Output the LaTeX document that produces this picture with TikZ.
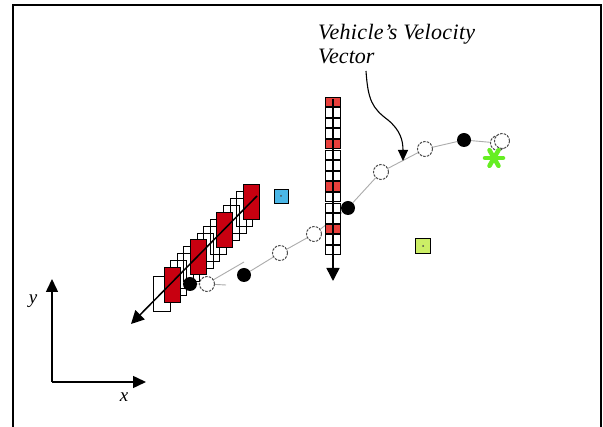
\documentclass[tikz,border=0pt]{standalone}
\usepackage{fontspec}
\setmainfont{Liberation Serif}
\usetikzlibrary{arrows.meta,calc}
\definecolor{boxred}{HTML}{C80010}
\definecolor{cellred}{HTML}{E8403C}
\definecolor{skyblue}{HTML}{4AB6E6}
\definecolor{lime}{HTML}{CCEE66}
\definecolor{brightgreen}{HTML}{66EE22}
\begin{document}
\begin{tikzpicture}[x=1pt,y=-1pt,
  frame/.style={draw=black,line width=1.8pt},
  vec/.style={draw=black,line width=1.5pt,-{Triangle[length=13pt,width=13pt]}},
  axis/.style={draw=black,line width=1.5pt,-{Triangle[length=13pt,width=12pt]}},
  pointer/.style={draw=black,line width=1.1pt,-{Triangle[length=11pt,width=10pt]}},
  track/.style={draw=gray!65,line width=0.9pt},
  openpt/.style={circle,draw=black!70,dash pattern=on 2.5pt off 1.2pt,line width=1pt,fill=white,minimum size=15pt,inner sep=0pt},
  solidpt/.style={circle,fill=black,minimum size=14pt,inner sep=0pt},
  cell/.style={draw=black,line width=0.9pt,fill=white,minimum width=15pt,minimum height=9.5pt,inner sep=0pt},
  redcell/.style={cell,fill=cellred},
  slot/.style={draw=black,line width=1pt,minimum width=16pt,minimum height=35pt,inner sep=0pt},
  redslot/.style={slot,fill=boxred},
  beacon/.style={draw=black,line width=0.9pt,minimum size=14pt,inner sep=0pt},
  label/.style={font=\fontsize{22}{24}\selectfont\itshape,inner sep=0pt},
  axlabel/.style={font=\fontsize{19}{22}\selectfont\itshape,inner sep=0pt}
]
\useasboundingbox (0,0) rectangle (603,427);
\fill[white] (0,0) rectangle (603,427);
\draw[frame] (13,5) rectangle (601,440);

% coordinate axes
\coordinate (O) at (52,382);
\coordinate (ytip) at (52,279);
\coordinate (xtip) at (146,382);
\draw[axis] (O) -- (ytip);
\draw[axis] (O) -- (xtip);
\node[axlabel] (ylab) at (33,301) {y};
\node[axlabel] (xlab) at (124,397) {x};

% landmarks
\node[beacon,fill=skyblue] (b1) at (281,196) {};
\fill[black!70] (b1.center) circle (1pt);
\node[beacon,fill=lime,minimum size=15pt] (b2) at (423,246) {};
\fill[black!70] (b2.center) circle (1pt);

% vehicle path
\coordinate (t1) at (226,285);
\coordinate (t2) at (213,280);
\coordinate (t3) at (244,262);
\draw[track] (t2) -- (t3);
\node[solidpt] (p1) at (190,284) {};
\node[openpt] (p2) at (207,284) {};
\node[solidpt] (p3) at (244,275) {};
\node[openpt] (p4) at (280,253) {};
\node[openpt] (p5) at (314,234) {};
\node[solidpt] (p6) at (348,208) {};
\node[openpt] (p7) at (381,172) {};
\node[openpt] (p8) at (425,149) {};
\node[solidpt] (p9) at (464,140) {};
\node[openpt] (p10) at (498,143) {};
\node[openpt] (p11) at (502,141) {};
\draw[track] (p1) -- (p2) -- (t1);
\draw[track] (p3) -- (p4) -- (p5) -- (p6) -- (p7) -- (p8) -- (p9) -- (p10);

% diagonal stack of vehicle boxes
\node[slot,minimum width=17pt] (d0) at (162,294) {};
\foreach \i in {2,3,4,6,7,8,10,11,12} {
  \node[slot] (d\i) at ({165.5+6.6*\i},{292-6.9*\i}) {};
}
\foreach \i in {1,5,9,13} {
  \node[redslot] (d\i) at ({165.5+6.6*\i},{292-6.9*\i}) {};
}
\coordinate (dstart) at (257,196);
\coordinate (dend) at (131,324);
\draw[vec] (dstart) -- (dend);

% vertical stack of cells
\foreach \i in {1,...,15} {
  \pgfmathtruncatemacro{\r}{mod(\i-1,4)==0 ? 1 : 0}
  \ifnum\r=1
    \node[redcell] (c\i) at (333,{101.75+10.6*(\i-1)}) {};
  \else
    \node[cell] (c\i) at (333,{101.75+10.6*(\i-1)}) {};
  \fi
}
\coordinate (vstart) at (333,99);
\coordinate (vend) at (333,281);
\draw[vec] (vstart) -- (vend);

% goal marker
\node (goal) at (494,158) {};
\foreach \a in {0,60,120} {
  \draw[brightgreen,line width=4.5pt,line cap=round] ($(goal.center)+(\a:9pt)$) -- ($(goal.center)+(\a+180:9pt)$);
}

% annotation
\node[label,anchor=base west] (lab1) at (318,40) {\addfontfeature{LetterSpace=1.5}Vehicle’s Velocity};
\node[label,anchor=base west] (lab2) at (318,64) {Vector};
\coordinate (ptail) at (366,71);
\coordinate (pmid) at (388,120);
\coordinate (phead) at (403,161);
\draw[pointer] (ptail) .. controls (368,100) and (372,108) .. (pmid) .. controls (400,130) and (403,140) .. (phead);
\end{tikzpicture}
\end{document}
